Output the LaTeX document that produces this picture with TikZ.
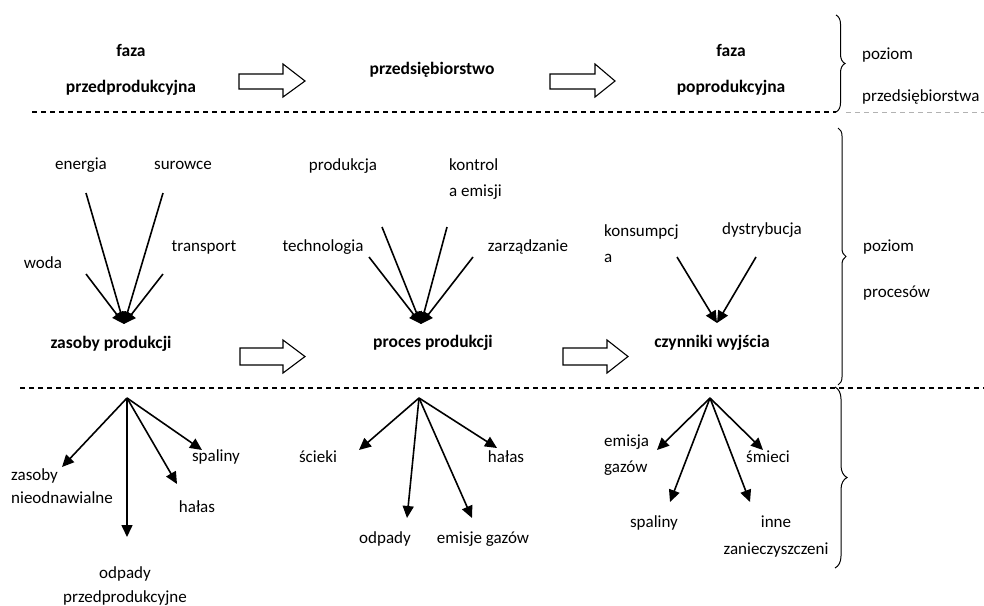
\documentclass[tikz,border=0pt]{standalone}
\usepackage{fontspec}
\setmainfont{Carlito}
\usetikzlibrary{arrows.meta,decorations.pathreplacing}
\begin{document}
\begin{tikzpicture}[x=1pt,y=-1pt,
  txt/.style={font=\fontsize{17}{26}\selectfont, inner sep=0pt, align=center},
  ltxt/.style={txt, anchor=west, align=left},
  btxt/.style={font=\fontsize{17.5}{36}\selectfont\bfseries, inner sep=0pt, align=center},
  conv/.style={line width=1.6pt, -{Triangle[length=12pt,width=11pt]}},
  outa/.style={line width=1.6pt, -{Triangle[length=12pt,width=11pt]}},
  blockarrow/.style={draw, fill=white, line width=1.1pt, line join=miter},
  sep/.style={line width=1.3pt, dash pattern=on 5pt off 4pt},
  bracestyle/.style={line width=1pt, decorate}
]
\useasboundingbox (0,0) rectangle (984,605);

% separators
\draw[sep] (32,112) -- (836,112);
\draw[line width=0.5pt, gray!60, dash pattern=on 5pt off 4pt] (846,112) -- (984,112);
\draw[sep] (20,388) -- (984,388);

% braces
\draw[bracestyle, decoration={brace, amplitude=9pt}] (836,15) -- (836,112);
\draw[bracestyle, decoration={brace, amplitude=8pt}] (838,128) -- (838,385);
\draw[bracestyle, decoration={brace, amplitude=12pt}] (835,387) -- (835,568);

% top level
\node[btxt] (fpre) at (131,70) {faza\\przedprodukcyjna};
\node[btxt] (przed) at (432,70) {przedsiębiorstwo};
\node[btxt] (fpo) at (731,70) {faza\\poprodukcyjna};
\node[ltxt, font=\fontsize{17}{42}\selectfont] (pz1) at (862,76) {poziom\\przedsiębiorstwa};

\draw[blockarrow] (239,74) -- (283,74) -- (283,64) -- (305,81) -- (283,97) -- (283,89) -- (239,89) -- cycle;
\draw[blockarrow] (550,74) -- (595,74) -- (595,64) -- (615,81) -- (595,97) -- (595,89) -- (550,89) -- cycle;

% process level
\node[txt] (energia) at (81,165) {energia};
\node[txt] (surowce) at (183,165) {surowce};
\node[txt] (transport) at (204,247) {transport};
\node[txt] (woda) at (43,263) {woda};
\node[btxt] (zasoby) at (111,344) {zasoby produkcji};

\coordinate (t1) at (124,324);
\coordinate (e1) at (86,193);
\coordinate (s1) at (163,193);
\coordinate (w1) at (86,274);
\coordinate (tr1) at (163,274);
\draw[conv] (e1) -- (t1);
\draw[conv] (s1) -- (t1);
\draw[conv] (w1) -- (t1);
\draw[conv] (tr1) -- (t1);

\node[txt] (produkcja) at (343,166) {produkcja};
\node[ltxt] (kontrola) at (449,179) {kontrol\\a emisji};
\node[txt] (technologia) at (323,247) {technologia};
\node[txt] (zarzadzanie) at (528,247) {zarządzanie};
\node[btxt] (proces) at (433,343) {proces produkcji};

\coordinate (t2) at (421,324);
\coordinate (p2) at (382,227);
\coordinate (k2) at (447,227);
\coordinate (te2) at (369,257);
\coordinate (z2) at (473,257);
\draw[conv] (p2) -- (t2);
\draw[conv] (k2) -- (t2);
\draw[conv] (te2) -- (t2);
\draw[conv] (z2) -- (t2);

\node[ltxt] (konsumpcja) at (604,244) {konsumpcj\\a};
\node[txt] (dystrybucja) at (762,230) {dystrybucja};
\node[btxt] (czynniki) at (712,343) {czynniki wyjścia};

\coordinate (t3) at (717,323);
\coordinate (k3) at (677,257);
\coordinate (d3) at (756,257);
\draw[conv] (k3) -- (t3);
\draw[conv] (d3) -- (t3);

\draw[blockarrow] (240,348) -- (283,348) -- (283,340) -- (305,356.5) -- (283,373) -- (283,365) -- (240,365) -- cycle;
\draw[blockarrow] (563,348) -- (607,348) -- (607,340) -- (628,356.5) -- (607,373) -- (607,365) -- (563,365) -- cycle;

\node[ltxt, font=\fontsize{17}{46}\selectfont] (pz2) at (863,270) {poziom\\procesów};

% outputs - left
\coordinate (o1) at (127,398);
\coordinate (a1) at (62,467);
\coordinate (b1) at (127,537);
\coordinate (c1) at (177,484);
\coordinate (d1) at (202,450);
\draw[outa] (o1) -- (a1);
\draw[outa] (o1) -- (b1);
\draw[outa] (o1) -- (c1);
\draw[outa] (o1) -- (d1);
\node[ltxt, font=\fontsize{17}{23}\selectfont] (zn) at (11,486) {zasoby\\nieodnawialne};
\node[txt] (halas1) at (197,507) {hałas};
\node[txt] (spaliny1) at (216,457) {spaliny};
\node[txt, font=\fontsize{17}{24}\selectfont] (odpady1) at (125,586) {odpady\\przedprodukcyjne};

% outputs - middle
\coordinate (o2) at (419,398);
\coordinate (a2) at (359,450);
\coordinate (b2) at (407,518);
\coordinate (c2) at (472,518);
\coordinate (d2) at (497,448);
\draw[outa] (o2) -- (a2);
\draw[outa] (o2) -- (b2);
\draw[outa] (o2) -- (c2);
\draw[outa] (o2) -- (d2);
\node[txt] (scieki) at (318,457) {ścieki};
\node[txt] (odpady2) at (385,539) {odpady};
\node[txt] (emisje) at (483,539) {emisje gazów};
\node[txt] (halas2) at (506,457) {hałas};

% outputs - right
\coordinate (o3) at (710,398);
\coordinate (a3) at (657,450);
\coordinate (b3) at (670,502);
\coordinate (c3) at (750,502);
\coordinate (d3) at (763,450);
\draw[outa] (o3) -- (a3);
\draw[outa] (o3) -- (b3);
\draw[outa] (o3) -- (c3);
\draw[outa] (o3) -- (d3);
\node[ltxt] (emisja) at (604,455) {emisja\\gazów};
\node[txt] (spaliny3) at (654,523) {spaliny};
\node[txt, font=\fontsize{17}{27}\selectfont] (inne) at (776,537) {inne\\zanieczyszczeni};
\node[txt] (smieci) at (768,457) {śmieci};
\end{tikzpicture}
\end{document}
